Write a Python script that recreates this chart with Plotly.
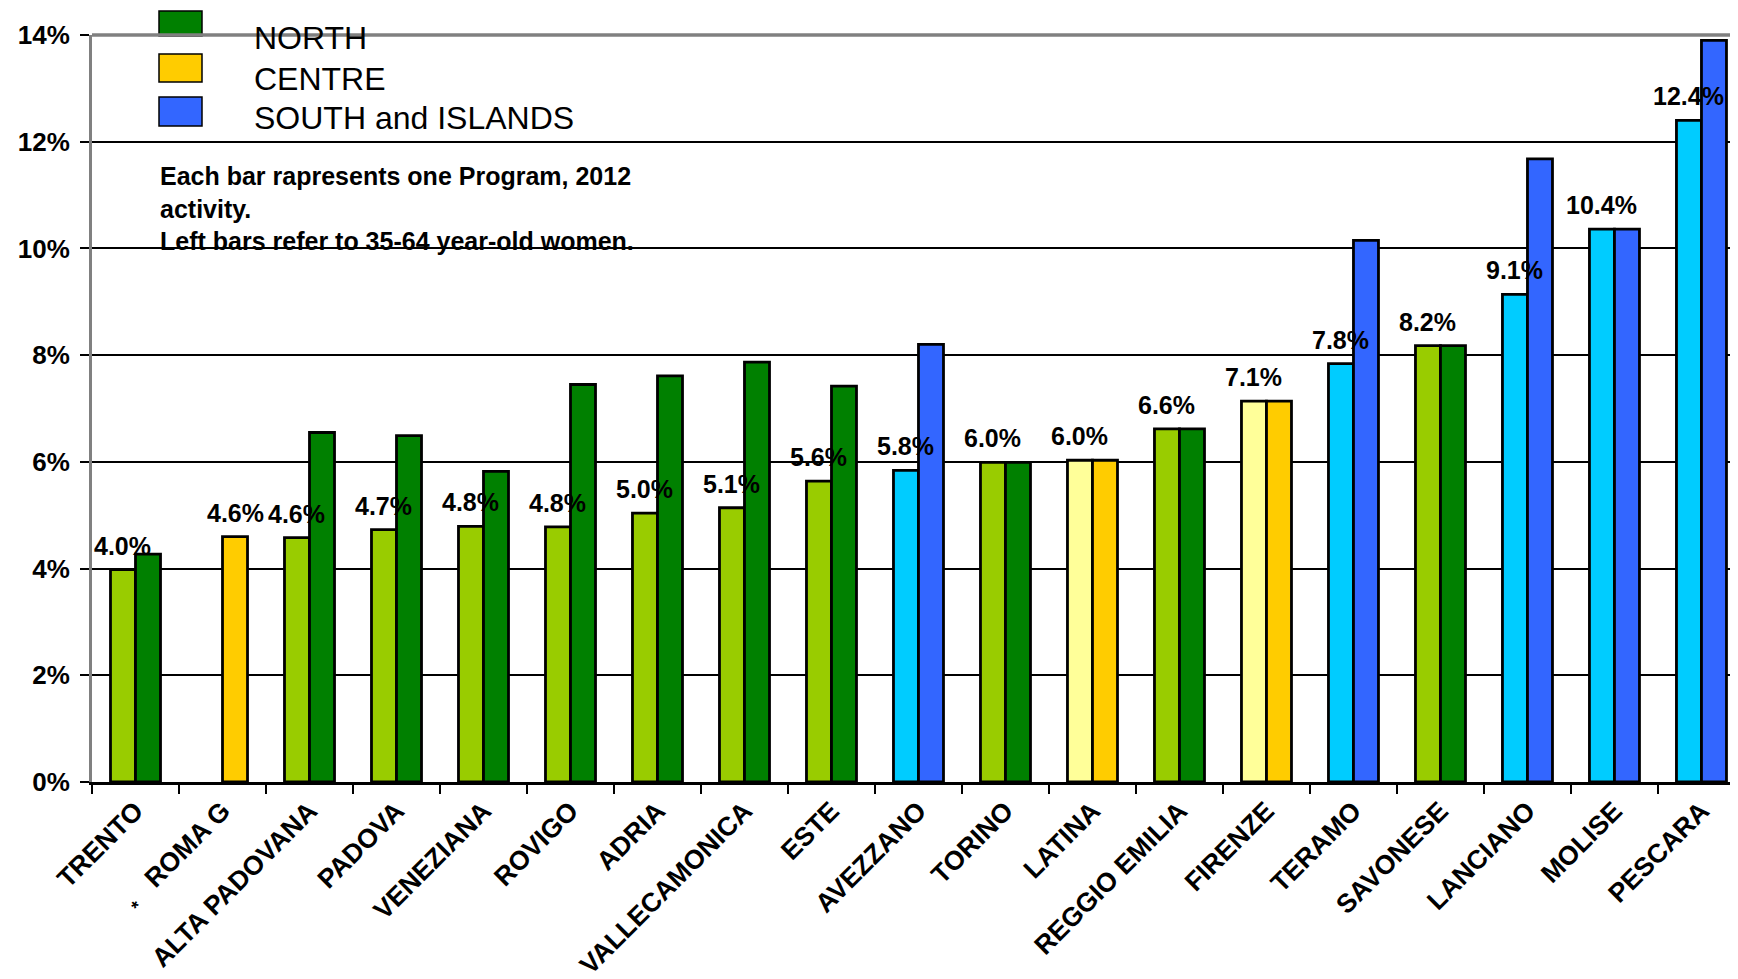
import plotly.graph_objects as go

# ---------------- data ----------------
programs = ["TRENTO", "ROMA G", "ALTA PADOVANA", "PADOVA", "VENEZIANA", "ROVIGO", "ADRIA",
            "VALLECAMONICA", "ESTE", "AVEZZANO", "TORINO", "LATINA", "REGGIO EMILIA",
            "FIRENZE", "TERAMO", "SAVONESE", "LANCIANO", "MOLISE", "PESCARA"]
tick_labels = ["TRENTO", "<sub>*</sub>   ROMA G", "ALTA PADOVANA", "PADOVA", "VENEZIANA",
               "ROVIGO", "ADRIA", "VALLECAMONICA", "ESTE", "AVEZZANO", "TORINO", "LATINA",
               "REGGIO EMILIA", "FIRENZE", "TERAMO", "SAVONESE", "LANCIANO", "MOLISE",
               "PESCARA"]
regions = ["NORTH", "CENTRE", "NORTH", "NORTH", "NORTH", "NORTH", "NORTH",
           "NORTH", "NORTH", "SOUTH and ISLANDS", "NORTH", "CENTRE", "NORTH",
           "CENTRE", "SOUTH and ISLANDS", "NORTH", "SOUTH and ISLANDS", "SOUTH and ISLANDS",
           "SOUTH and ISLANDS"]
# left bars: 35-64 year-old women (%), right bars: other age range (%)
left_rate = [3.98, None, 4.58, 4.73, 4.79, 4.78, 5.04, 5.14, 5.64, 5.84, 5.99, 6.03, 6.62,
             7.14, 7.84, 8.18, 9.14, 10.36, 12.40]
right_rate = [4.27, 4.60, 6.55, 6.49, 5.82, 7.45, 7.61, 7.87, 7.42, 8.20, 5.99, 6.03, 6.62,
              7.14, 10.15, 8.18, 11.68, 10.36, 13.90]
region_order = ["NORTH", "CENTRE", "SOUTH and ISLANDS"]
y_ticks = [0, 2, 4, 6, 8, 10, 12, 14]
note_lines = ["Each bar rapresents one Program, 2012", "activity.",
              "Left bars refer to 35-64 year-old women."]

# ---------------- style ----------------
light_col = {"NORTH": "#99CC00", "CENTRE": "#FFFF99", "SOUTH and ISLANDS": "#00CCFF"}
dark_col = {"NORTH": "#008000", "CENTRE": "#FFCC00", "SOUTH and ISLANDS": "#3366FF"}
FONT = "Liberation Sans, Arial, sans-serif"
OFF = 8                      # page body margin
W, H = 1738 - OFF, 979 - OFF
ML, MR, MT, MB = 92 - OFF, 0, 35 - OFF, 197
PW, PH = W - ML - MR, H - MT - MB
BARGAP = 0.425
CAT_PX = PW / 18.92
BAR_PX = CAT_PX * (1 - BARGAP) / 2


def px_x(x):                 # page pixel -> paper
    return (x - OFF - ML) / PW


def px_y(y):
    return (H - MB - (y - OFF)) / PH


fig = go.Figure()
for reg in region_order:
    idx = [i for i, r in enumerate(regions) if r == reg]
    fig.add_trace(go.Bar(
        x=[programs[i] for i in idx], y=[left_rate[i] for i in idx],
        offsetgroup="L", marker=dict(color=light_col[reg], line=dict(color="black", width=2.8)),
        showlegend=False, name=reg + " 35-64"))
    fig.add_trace(go.Bar(
        x=[programs[i] for i in idx], y=[right_rate[i] for i in idx],
        offsetgroup="R", marker=dict(color=dark_col[reg], line=dict(color="black", width=2.8)),
        showlegend=False, name=reg))

# value labels above the bar that carries the 35-64 value (right bar when left missing)
annotations = []
for i, p in enumerate(programs):
    if left_rate[i] is not None:
        v, shift = left_rate[i], -BAR_PX / 2
    else:
        v, shift = right_rate[i], BAR_PX / 2
    annotations.append(dict(x=p, y=v, xref="x", yref="y", text=f"{v:.1f}%", showarrow=False,
                            xanchor="center", yanchor="bottom", xshift=shift, yshift=8,
                            font=dict(family=FONT, size=25, color="black", weight="bold")))

# legend (drawn manually to match large swatches)
shapes = []
sw_y = [(11, 36), (54, 82), (97, 126)]
txt_y = [38, 79, 118]
for k, reg in enumerate(region_order):
    shapes.append(dict(type="rect", xref="paper", yref="paper",
                       x0=px_x(159), x1=px_x(202), y0=px_y(sw_y[k][1]), y1=px_y(sw_y[k][0]),
                       fillcolor=dark_col[reg], line=dict(color="black", width=1.5)))
    annotations.append(dict(x=px_x(252), y=px_y(txt_y[k]), xref="paper", yref="paper",
                            text=reg, showarrow=False, xanchor="left", yanchor="middle",
                            font=dict(family=FONT, size=32, color="black")))

annotations.append(dict(x=px_x(158), y=px_y(160), xref="paper", yref="paper",
                        text="<br>".join(note_lines), showarrow=False, align="left",
                        xanchor="left", yanchor="top",
                        font=dict(family=FONT, size=25, color="black", weight="bold")))

# grey plot border on top
shapes.append(dict(type="line", xref="paper", yref="paper", x0=0, x1=1, y0=1, y1=1,
                   line=dict(color="#808080", width=3.5)))

fig.update_layout(
    width=W, height=H, autosize=False,
    margin=dict(l=ML, r=MR, t=MT, b=MB, pad=0, autoexpand=False),
    paper_bgcolor="white", plot_bgcolor="white",
    barmode="group", bargap=BARGAP, bargroupgap=0,
    showlegend=False,
    annotations=annotations, shapes=shapes,
    xaxis=dict(categoryorder="array", categoryarray=programs,
               tickmode="array", tickvals=programs, ticktext=tick_labels,
               range=[-0.5, 18.42], tickson="boundaries", ticks="outside", ticklen=9,
               tickwidth=1.5, tickcolor="black", showline=True, linecolor="black", linewidth=2.5,
               tickangle=-45, showgrid=False, automargin=False,
               tickfont=dict(family=FONT, size=26.5, color="black", weight="bold")),
    yaxis=dict(range=[0, 14], tickvals=y_ticks, ticktext=[f"{t}%" for t in y_ticks],
               showgrid=True, gridcolor="black", gridwidth=1.8, zeroline=False,
               showline=True, linecolor="#808080", linewidth=3, automargin=False,
               ticks="outside", ticklen=9, tickwidth=1.5, tickcolor="black",
               ticklabelstandoff=5,
               tickfont=dict(family=FONT, size=26, color="black", weight="bold")),
)

fig.write_html("out.html")
